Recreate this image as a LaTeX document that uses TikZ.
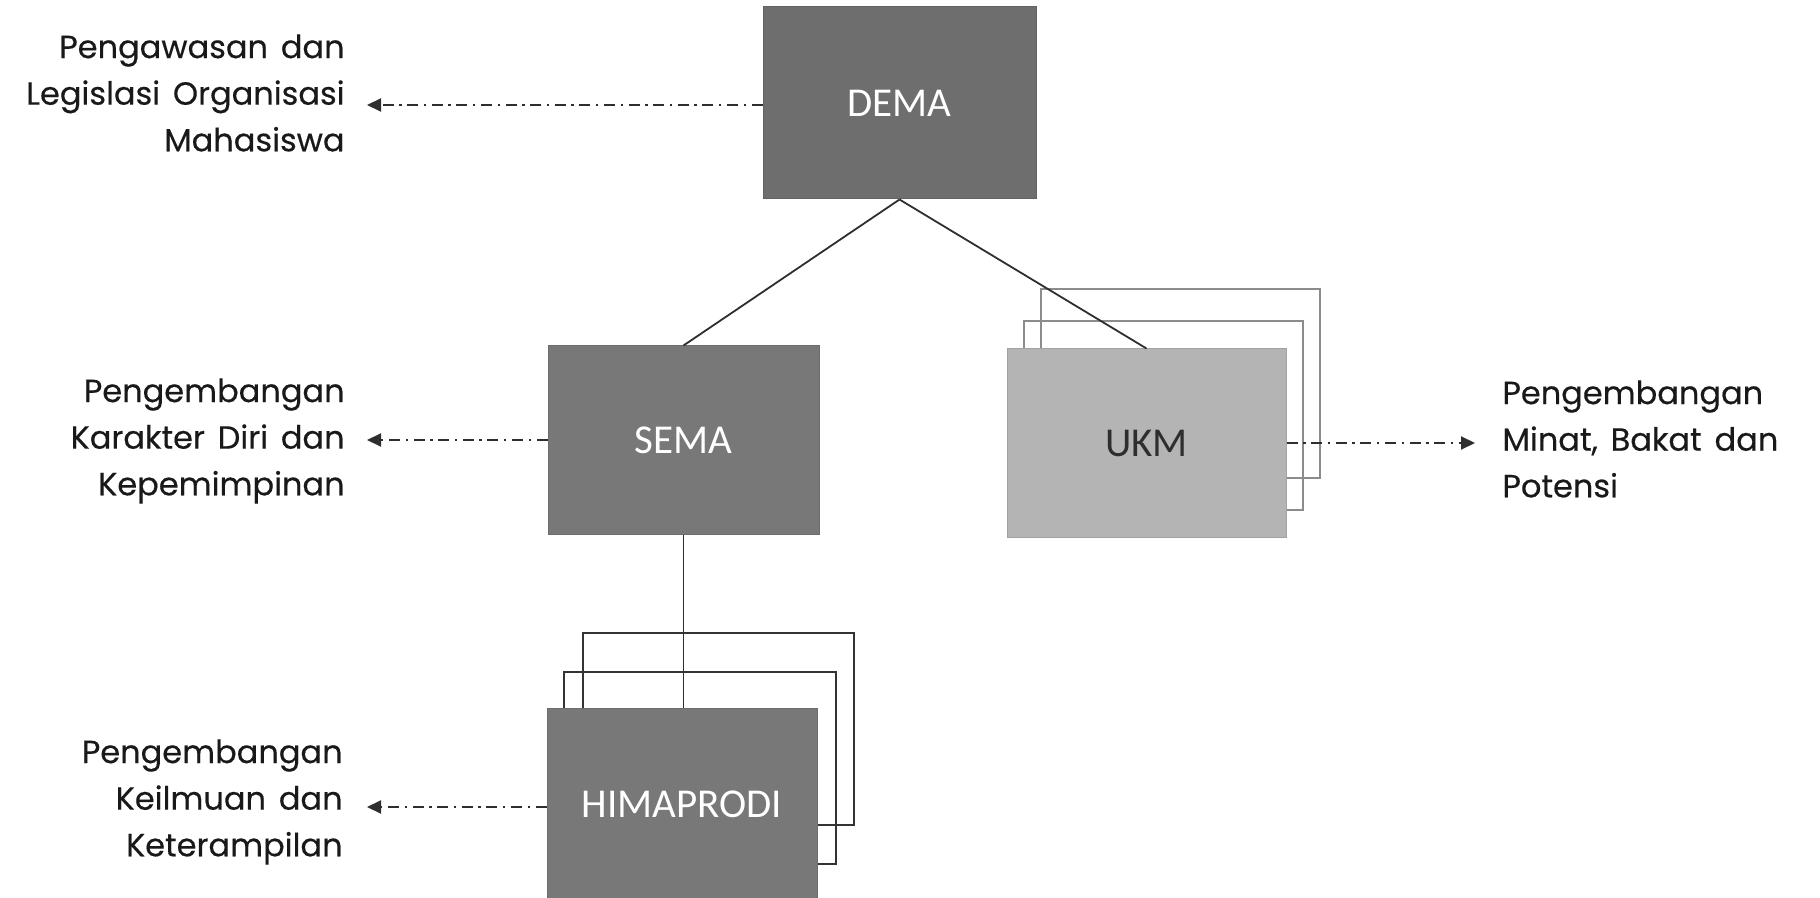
\documentclass[tikz,border=0pt]{standalone}
\usepackage{fontspec}
\setmainfont{Poppins}[WordSpace=1.5, FakeBold=0.35]
\newfontfamily\boxfont{Carlito}
\usetikzlibrary{arrows.meta}

\definecolor{boxdark}{HTML}{6E6E6E}
\definecolor{boxmid}{HTML}{787878}
\definecolor{boxlight}{HTML}{B4B4B4}
\definecolor{ink}{HTML}{2E2E2E}

\tikzset{
  orgbox/.style={draw=#1!90!black, line width=0.5pt, fill=#1, inner sep=0pt,
    minimum width=136pt, minimum height=95pt,
    font=\boxfont\fontsize{20.5}{24}\selectfont},
  darkbox/.style={orgbox=boxdark, text=white},
  midbox/.style={orgbox=boxmid, text=white},
  lightbox/.style={orgbox=boxlight, text=ink},
  stackline/.style={draw=#1, line width=0.75pt},
  link/.style={draw=ink, line width=0.9pt},
  duty/.style={draw=ink, line width=1pt,
    dash pattern=on 5.5pt off 2.8pt on 1.2pt off 2.8pt,
    -{Triangle[length=7pt,width=6.5pt]}},
  role/.style={inner sep=0pt, text=black!90,
    font=\fontsize{16}{23.3}\selectfont}
}

\begin{document}
\begin{tikzpicture}[x=0.5pt,y=-0.5pt]
\useasboundingbox (0,0) rectangle (1820,898);

% stacked outlines behind the repeated units
\draw[stackline=black!45] (1041,289) rectangle (1320,478);
\draw[stackline=black!45] (1024,321) rectangle (1303,510);
\draw[stackline=black!80] (583,633) rectangle (854,825);
\draw[stackline=black!80] (564,672) rectangle (836,864);

% organisation units
\node[darkbox, minimum width=136.5pt, minimum height=96pt] (dema) at (899.5,103) {DEMA};
\node[midbox, minimum width=135.5pt, minimum height=94pt] (sema) at (683.5,440) {SEMA};
\node[lightbox, minimum width=139.5pt, minimum height=94pt] (ukm) at (1146.5,443) {UKM};
\node[midbox, minimum width=135pt, minimum height=96pt] (hima) at (682,804) {HIMAPRODI};

% hierarchy
\draw[link] (dema.south) -- (sema.north);
\draw[link] (dema.south) -- (ukm.north);
\draw[link] (sema.south) -- (sema.south |- hima.north);

% roles
\node[role, anchor=east, align=right] (rdema) at (345,93)
  {Pengawasan dan\\Legislasi Organisasi\\Mahasiswa};
\node[role, anchor=east, align=right] (rsema) at (345,441)
  {Pengembangan\\Karakter Diri dan\\Kepemimpinan};
\node[role, anchor=east, align=right] (rhima) at (343,802)
  {Pengembangan\\Keilmuan dan\\Keterampilan};
\node[role, anchor=west, align=left] (rukm) at (1502,439)
  {Pengembangan\\Minat, Bakat dan\\Potensi};

\coordinate (tipL) at (367,0);
\coordinate (tipR) at (1475,0);

\draw[duty] ([yshift=-1pt]dema.west) -- ([yshift=-1pt]dema.west -| tipL);
\draw[duty] (sema.west) -- (sema.west -| tipL);
\draw[duty] ([yshift=-1.5pt]hima.west) -- ([yshift=-1.5pt]hima.west -| tipL);
\draw[duty] (ukm.east) -- (ukm.east -| tipR);
\end{tikzpicture}
\end{document}
